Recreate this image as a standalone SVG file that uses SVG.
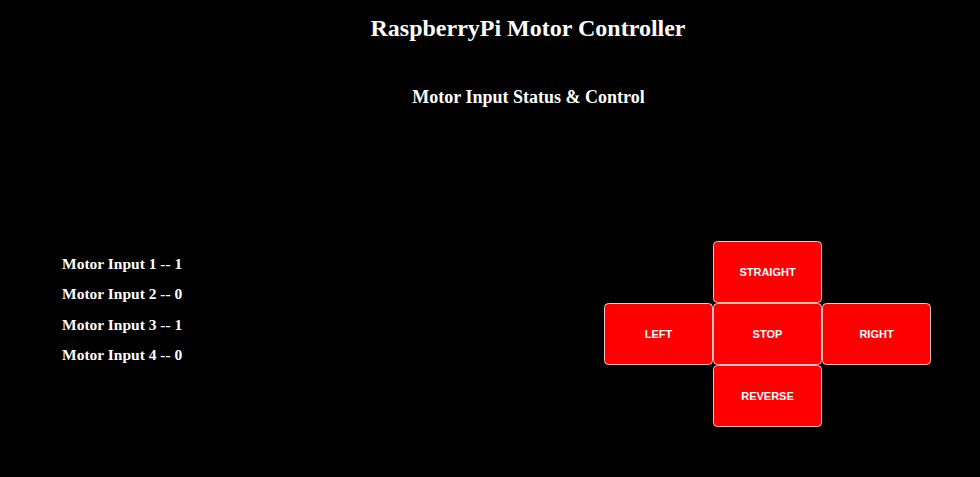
<svg xmlns="http://www.w3.org/2000/svg" width="980" height="477" viewBox="0 0 980 477">
<style>
.h{font-family:"Liberation Serif","Times New Roman",serif;font-weight:bold;fill:#fff}
.btn rect{fill:#ff0000;stroke:#f4c0c0;stroke-width:1}
.btn text{font-family:"Liberation Sans",Arial,sans-serif;font-weight:bold;font-size:11px;fill:#fff;text-anchor:middle}
</style>
<rect width="980" height="477" fill="#000"/>
<text class="h" x="528" y="36" font-size="24" text-anchor="middle">RaspberryPi Motor Controller</text>
<text class="h" x="528.5" y="103" font-size="18" text-anchor="middle">Motor Input Status &amp; Control</text>
<g id="status">
<text class="h" x="62" y="268.5" font-size="15.5">Motor Input 1 -- 1</text>
<text class="h" x="62" y="299" font-size="15.5">Motor Input 2 -- 0</text>
<text class="h" x="62" y="329.5" font-size="15.5">Motor Input 3 -- 1</text>
<text class="h" x="62" y="360" font-size="15.5">Motor Input 4 -- 0</text>
</g>
<g id="straight" class="btn"><rect x="713.5" y="241.5" width="108" height="61" rx="4"/><text x="767.5" y="276">STRAIGHT</text></g>
<g id="left" class="btn"><rect x="604.5" y="303.5" width="108" height="61" rx="4"/><text x="658.5" y="338">LEFT</text></g>
<g id="stop" class="btn"><rect x="713.5" y="303.5" width="108" height="61" rx="4"/><text x="767.5" y="338">STOP</text></g>
<g id="right" class="btn"><rect x="822.5" y="303.5" width="108" height="61" rx="4"/><text x="876.5" y="338">RIGHT</text></g>
<g id="reverse" class="btn"><rect x="713.5" y="365.5" width="108" height="61" rx="4"/><text x="767.5" y="400">REVERSE</text></g>
<g id="connectors"/>
</svg>
